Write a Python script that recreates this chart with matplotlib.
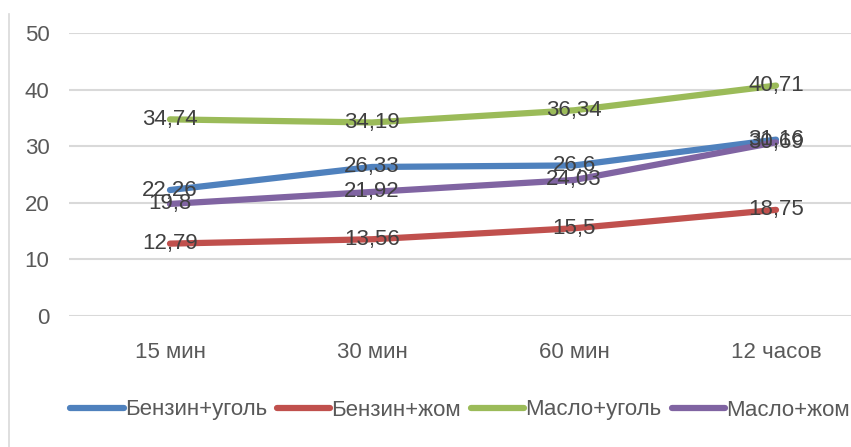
import matplotlib.pyplot as plt
from matplotlib.lines import Line2D

plt.rcParams['font.family'] = ['Liberation Sans', 'DejaVu Sans']

# data
categories = ['15 мин', '30 мин', '60 мин', '12 часов']
series_names = ['Бензин+уголь', 'Бензин+жом', 'Масло+уголь', 'Масло+жом']
benzin_ugol = [22.26, 26.33, 26.6, 31.16]
benzin_zhom = [12.79, 13.56, 15.5, 18.75]
maslo_ugol = [34.74, 34.19, 36.34, 40.71]
maslo_zhom = [19.8, 21.92, 24.03, 30.69]
yticks = [0, 10, 20, 30, 40, 50]

series = [benzin_ugol, benzin_zhom, maslo_ugol, maslo_zhom]
colors = ['#4f81bd', '#c0504d', '#9bbb59', '#8064a2']

fig = plt.figure(figsize=(8.51, 4.47), dpi=100)
ax = fig.add_axes([69 / 851, 131 / 447, 808 / 851, 283 / 447])

x = list(range(len(categories)))
for name, vals, c in zip(series_names, series, colors):
    ax.plot(x, vals, color=c, lw=4.5, solid_capstyle='round', label=name, zorder=3)

# data labels centered on the points (they overlap in the original too)
for vals in series:
    for xi, v in zip(x, vals):
        ax.text(xi, v, f'{v:g}'.replace('.', ','), ha='center', va='center',
                fontsize=16, color='#404040', zorder=5)

ax.set_xlim(-0.5, len(categories) - 0.5)
ax.set_ylim(0, 50)
ax.set_yticks(yticks)
ax.set_xticks(x)
ax.set_xticklabels(categories)
ax.tick_params(axis='both', length=0, labelsize=16, colors='#595959')
ax.tick_params(axis='y', pad=14)
ax.tick_params(axis='x', pad=19)
ax.grid(axis='y', color='#d9d9d9', lw=1.5)
ax.set_axisbelow(True)
for s in ax.spines.values():
    s.set_visible(False)

# left border of the chart frame
fig.add_artist(Line2D([9 / 851, 9 / 851], [0, 1 - 14 / 447], transform=fig.transFigure,
                      color='#d9d9d9', lw=1.2))

ax.legend(loc='center', bbox_to_anchor=(460 / 851, 37 / 447), bbox_transform=fig.transFigure,
          ncol=4, frameon=False, fontsize=16, handlelength=2.4, handletextpad=0.05,
          columnspacing=0.45, labelcolor='#595959')

fig.savefig('out.png', dpi=100)
